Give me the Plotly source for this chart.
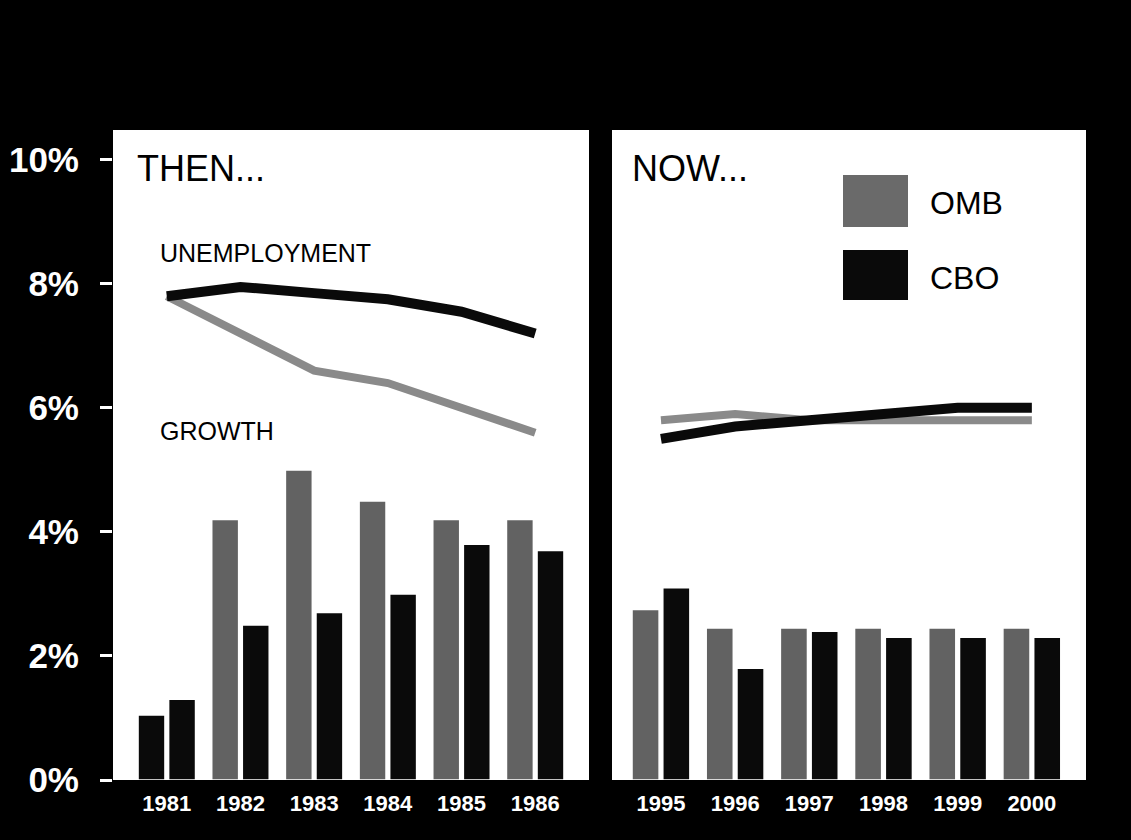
import plotly.graph_objects as go
from plotly.subplots import make_subplots

# ---- data ----
years_then = ["1981", "1982", "1983", "1984", "1985", "1986"]
omb_growth_then = [1.05, 4.2, 5.0, 4.5, 4.2, 4.2]
cbo_growth_then = [1.3, 2.5, 2.7, 3.0, 3.8, 3.7]
omb_unemp_then = [7.8, 7.2, 6.6, 6.4, 6.0, 5.6]
cbo_unemp_then = [7.8, 7.95, 7.85, 7.75, 7.55, 7.2]

years_now = ["1995", "1996", "1997", "1998", "1999", "2000"]
omb_growth_now = [2.75, 2.45, 2.45, 2.45, 2.45, 2.45]
cbo_growth_now = [3.1, 1.8, 2.4, 2.3, 2.3, 2.3]
omb_unemp_now = [5.8, 5.9, 5.8, 5.8, 5.8, 5.8]
cbo_unemp_now = [5.5, 5.7, 5.8, 5.9, 6.0, 6.0]

y_ticks = [0, 2, 4, 6, 8, 10]
y_tick_text = ["0%", "2%", "4%", "6%", "8%", "10%"]

# ---- styling ----
W, H = 1131, 840
ML, MR, MT, MB = 113, 45, 130, 60
PW, PH = W - ML - MR, H - MT - MB
FONT = "Liberation Sans, Arial, Helvetica, sans-serif"
OMB_BAR = "#626262"
OMB_LINE = "#8a8a8a"
CBO = "#0a0a0a"


def px(x):
    return (x - ML) / PW


def py(y):
    return (H - MB - y) / PH


fig = make_subplots(rows=1, cols=2, horizontal_spacing=0.02)

omb_then_colors = [CBO] + [OMB_BAR] * (len(years_then) - 1)

fig.add_trace(go.Bar(x=years_then, y=omb_growth_then, marker=dict(color=omb_then_colors,
                     line=dict(color="white", width=1.5)), name="OMB"), row=1, col=1)
fig.add_trace(go.Bar(x=years_then, y=cbo_growth_then, marker=dict(color=CBO,
                     line=dict(color="white", width=1.5)), name="CBO"), row=1, col=1)
fig.add_trace(go.Scatter(x=years_then, y=omb_unemp_then, mode="lines",
                         line=dict(color=OMB_LINE, width=8), name="OMB"), row=1, col=1)
fig.add_trace(go.Scatter(x=years_then, y=cbo_unemp_then, mode="lines",
                         line=dict(color=CBO, width=10), name="CBO"), row=1, col=1)

fig.add_trace(go.Bar(x=years_now, y=omb_growth_now, marker=dict(color=OMB_BAR,
                     line=dict(color="white", width=1.5)), name="OMB"), row=1, col=2)
fig.add_trace(go.Bar(x=years_now, y=cbo_growth_now, marker=dict(color=CBO,
                     line=dict(color="white", width=1.5)), name="CBO"), row=1, col=2)
fig.add_trace(go.Scatter(x=years_now, y=omb_unemp_now, mode="lines",
                         line=dict(color=OMB_LINE, width=8), name="OMB"), row=1, col=2)
fig.add_trace(go.Scatter(x=years_now, y=cbo_unemp_now, mode="lines",
                         line=dict(color=CBO, width=10), name="CBO"), row=1, col=2)

xcommon = dict(showgrid=False, zeroline=False, showline=False, ticks="",
               tickfont=dict(family=FONT, size=22, color="white", weight="bold"),
               type="category", ticklabelstandoff=8, automargin=False)
fig.update_xaxes(**xcommon)
fig.update_xaxes(domain=[0, px(589)], range=[-0.73, 5.73], row=1, col=1)
fig.update_xaxes(domain=[px(612), 1], range=[-0.66, 5.73], row=1, col=2)

fig.update_yaxes(range=[0, 10.48], showgrid=False, zeroline=False, showline=False,
                 automargin=False)
fig.update_yaxes(tickvals=y_ticks, ticktext=y_tick_text, ticks="outside", ticklen=12,
                 tickwidth=3, tickcolor="white", ticklabelstandoff=14,
                 tickfont=dict(family=FONT, size=35, color="white", weight="bold"),
                 row=1, col=1)
fig.update_yaxes(showticklabels=False, ticks="", row=1, col=2)

annots = [
    dict(text="THEN...", x=px(135), y=py(168), size=36),
    dict(text="NOW...", x=px(630), y=py(168), size=36),
    dict(text="UNEMPLOYMENT", x=px(158), y=py(253), size=25),
    dict(text="GROWTH", x=px(158), y=py(431), size=25),
    dict(text="OMB", x=px(928), y=py(203), size=32),
    dict(text="CBO", x=px(928), y=py(278), size=32),
]
for a in annots:
    fig.add_annotation(text=a["text"], x=a["x"], y=a["y"], xref="paper", yref="paper",
                       xanchor="left", yanchor="middle", showarrow=False,
                       font=dict(family=FONT, size=a["size"], color="black"))

fig.add_shape(type="rect", xref="paper", yref="paper", x0=px(843), x1=px(908),
              y0=py(227), y1=py(175), fillcolor="#6a6a6a", line=dict(width=0))
fig.add_shape(type="rect", xref="paper", yref="paper", x0=px(843), x1=px(908),
              y0=py(300), y1=py(250), fillcolor=CBO, line=dict(width=0))

fig.update_layout(
    width=W, height=H,
    margin=dict(l=ML, r=MR, t=MT, b=MB, autoexpand=False),
    paper_bgcolor="black", plot_bgcolor="white",
    barmode="group", bargap=0.17, bargroupgap=0.12,
    showlegend=False,
)

fig.write_html("out.html")
